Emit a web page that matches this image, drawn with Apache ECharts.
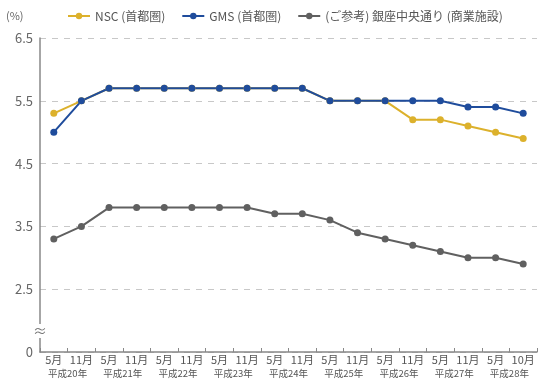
<!DOCTYPE html>
<html>
<head>
<meta charset="utf-8">
<script src="https://cdn.jsdelivr.net/npm/echarts@6/dist/echarts.min.js"></script>
<style>
  html, body { margin: 0; padding: 0; background: #fff; }
  #chart { width: 543px; height: 383px; }
</style>
</head>
<body>
<div id="chart"></div>
<script>
// Vacancy rate (%) by survey half-year
const months = ['5月','11月','5月','11月','5月','11月','5月','11月','5月','11月','5月','11月','5月','11月','5月','11月','5月','10月'];
const years = ['平成20年','平成21年','平成22年','平成23年','平成24年','平成25年','平成26年','平成27年','平成28年'];
const nscValues = [5.3, 5.5, 5.7, 5.7, 5.7, 5.7, 5.7, 5.7, 5.7, 5.7, 5.5, 5.5, 5.5, 5.2, 5.2, 5.1, 5.0, 4.9];
const gmsValues = [5.0, 5.5, 5.7, 5.7, 5.7, 5.7, 5.7, 5.7, 5.7, 5.7, 5.5, 5.5, 5.5, 5.5, 5.5, 5.4, 5.4, 5.3];
const ginzaValues = [3.3, 3.5, 3.8, 3.8, 3.8, 3.8, 3.8, 3.8, 3.7, 3.7, 3.6, 3.4, 3.3, 3.2, 3.1, 3.0, 3.0, 2.9];
const seriesNames = ['NSC (首都圏)', 'GMS (首都圏)', '(ご参考) 銀座中央通り (商業施設)'];
const seriesColors = ['#dcb12c', '#1f4c9c', '#606060'];

// The axis is broken below 2.5: its lowest step is labelled 0
const axisFloor = 1.5;

const font = '"Noto Sans CJK JP", "Noto Sans", sans-serif';
const chart = echarts.init(document.getElementById('chart'), null, { renderer: 'canvas' });

function lineSeries(name, values, color) {
  return {
    name: name,
    type: 'line',
    data: values,
    symbol: 'circle',
    symbolSize: 7,
    lineStyle: { width: 2, color: color },
    itemStyle: { color: color },
    animation: false
  };
}

chart.setOption({
  animation: false,
  textStyle: { fontFamily: font },
  grid: { left: 40, right: 6, top: 38, bottom: 31, containLabel: false },
  legend: {
    top: 5,
    left: 62,
    itemWidth: 22,
    itemHeight: 8,
    itemGap: 16,
    textStyle: { fontSize: 12, color: '#555', fontFamily: font },
    data: seriesNames
  },
  xAxis: [
    {
      type: 'category',
      data: months,
      boundaryGap: true,
      axisLine: { lineStyle: { color: '#888', width: 1.5 } },
      axisTick: { show: true, inside: true, length: 4, lineStyle: { color: '#888' } },
      axisLabel: { fontSize: 11, color: '#555', margin: 2, interval: 0, fontFamily: font }
    },
    {
      type: 'category',
      data: years,
      position: 'bottom',
      offset: 15,
      boundaryGap: true,
      axisLine: { show: false },
      axisTick: { show: false },
      axisLabel: { fontSize: 9.5, color: '#555', margin: 2, interval: 0, fontFamily: font }
    }
  ],
  yAxis: {
    type: 'value',
    min: axisFloor,
    max: 6.5,
    interval: 1,
    axisLine: { show: true, lineStyle: { color: '#888', width: 1.5 } },
    axisTick: { show: false },
    axisLabel: {
      fontSize: 13,
      color: '#666',
      margin: 7,
      fontFamily: font,
      formatter: function (v) { return v === axisFloor ? '0' : v.toFixed(1); }
    },
    splitLine: { show: true, lineStyle: { color: '#c8c8c8', type: [6, 6], width: 1 } }
  },
  graphic: [
    {
      type: 'text',
      left: 6,
      top: 10,
      style: { text: '(%)', fontSize: 11, fill: '#666', fontFamily: font }
    },
    {
      type: 'text',
      left: 33,
      top: 324,
      z: 10,
      style: { text: '≈', fontSize: 14, fill: '#777', backgroundColor: '#fff', fontFamily: font }
    }
  ],
  series: [
    lineSeries(seriesNames[0], nscValues, seriesColors[0]),
    lineSeries(seriesNames[1], gmsValues, seriesColors[1]),
    lineSeries(seriesNames[2], ginzaValues, seriesColors[2])
  ]
});
</script>
</body>
</html>
